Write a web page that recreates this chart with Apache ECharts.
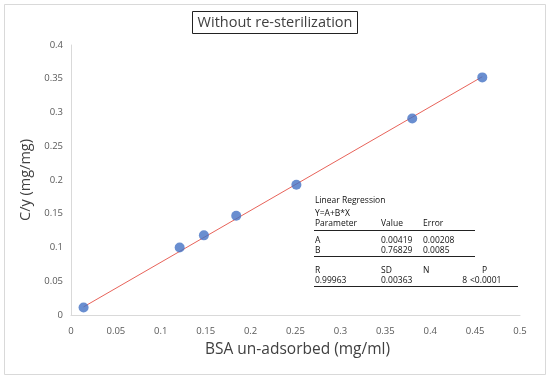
<!DOCTYPE html>
<html>
<head>
<meta charset="utf-8">
<script src="https://cdn.jsdelivr.net/npm/echarts@6/dist/echarts.min.js"></script>
<style>html,body{margin:0;padding:0;background:#fff}#c{width:550px;height:379px}</style>
</head>
<body>
<div id="c"></div>
<script>
// Data
const xValues = [0.014, 0.121, 0.148, 0.184, 0.251, 0.380, 0.458];
const yValues = [0.011, 0.100, 0.118, 0.147, 0.193, 0.291, 0.352];
const fitX = [0.014, 0.458];
const fitY = [0.012, 0.353];
const xTicks = {min: 0, max: 0.5, interval: 0.05};
const yTicks = {min: 0, max: 0.4, interval: 0.05};
const titleText = 'Without re-sterilization';
const xTitle = 'BSA un-adsorbed (mg/ml)';
const yTitle = 'C/y (mg/mg)';
const tableHeader1 = ['Parameter', 'Value', 'Error'];
const tableRowA = ['A', '0.00419', '0.00208'];
const tableRowB = ['B', '0.76829', '0.0085'];
const tableHeader2 = ['R', 'SD', 'N', 'P'];
const tableRow2 = ['0.99963', '0.00363', '8', '<0.0001'];

const FONT = '"Open Sans", "Liberation Sans", sans-serif';
const chart = echarts.init(document.getElementById('c'), null, {renderer: 'canvas'});

function txt(x, y, s, align) {
  return {type: 'text', x: x, y: y, style: {text: s, font: '8.5px ' + FONT, fill: '#111', textAlign: align || 'left', textVerticalAlign: 'middle'}};
}
function hline(x1, x2, y) {
  return {type: 'line', shape: {x1: x1, y1: y, x2: x2, y2: y}, style: {stroke: '#222', lineWidth: 1}};
}
const colX = [315, 381, 423, 482];
const tableEls = [
  txt(315, 201, 'Linear Regression'),
  txt(315, 214, 'Y=A+B*X'),
  txt(colX[0], 224, tableHeader1[0]), txt(colX[1], 224, tableHeader1[1]), txt(colX[2], 224, tableHeader1[2]),
  hline(314, 475, 230.5),
  txt(colX[0], 241, tableRowA[0]), txt(colX[1], 241, tableRowA[1]), txt(colX[2], 241, tableRowA[2]),
  txt(colX[0], 250.5, tableRowB[0]), txt(colX[1], 250.5, tableRowB[1]), txt(colX[2], 250.5, tableRowB[2]),
  hline(314, 475, 256.5),
  txt(colX[0], 271, tableHeader2[0]), txt(colX[1], 271, tableHeader2[1]), txt(colX[2], 271, tableHeader2[2]), txt(colX[3], 271, tableHeader2[3]),
  txt(colX[0], 280.5, tableRow2[0]), txt(colX[1], 280.5, tableRow2[1]), txt(467, 280.5, tableRow2[2], 'right'), txt(470, 280.5, tableRow2[3]),
  hline(314, 518, 286.5),
  {type: 'rect', shape: {x: 4.5, y: 4.5, width: 541, height: 370}, style: {fill: 'none', stroke: '#d9d9d9', lineWidth: 1}, z: -1}
];

chart.setOption({
  animation: false,
  backgroundColor: '#fff',
  title: {
    text: titleText, left: 'center', top: 11,
    borderColor: '#222', borderWidth: 1, padding: [4, 5, 4, 5],
    textStyle: {fontFamily: FONT, fontSize: 14.5, fontWeight: 'normal', color: '#404040'}
  },
  grid: {left: 71, right: 30, top: 45, bottom: 64, containLabel: false},
  xAxis: {
    type: 'value', min: xTicks.min, max: xTicks.max, interval: xTicks.interval,
    name: xTitle, nameLocation: 'middle', nameGap: 27,
    nameTextStyle: {fontFamily: FONT, fontSize: 15.5, color: '#404040', padding: [0, 0, 0, 4]},
    axisLine: {show: true, lineStyle: {color: '#d9d9d9'}},
    axisTick: {show: false}, splitLine: {show: false},
    axisLabel: {fontFamily: FONT, fontSize: 9.5, color: '#595959', margin: 11}
  },
  yAxis: {
    type: 'value', min: yTicks.min, max: yTicks.max, interval: yTicks.interval,
    name: yTitle, nameLocation: 'middle', nameGap: 25,
    nameTextStyle: {fontFamily: FONT, fontSize: 14.5, color: '#404040'},
    axisLine: {show: true, lineStyle: {color: '#d9d9d9'}},
    axisTick: {show: false}, splitLine: {show: false},
    axisLabel: {fontFamily: FONT, fontSize: 9.5, color: '#595959', margin: 8}
  },
  series: [
    {
      type: 'line', data: fitX.map((x, i) => [x, fitY[i]]),
      symbol: 'none', lineStyle: {color: '#e8635a', width: 1}, z: 1
    },
    {
      type: 'scatter', data: xValues.map((x, i) => [x, yValues[i]]),
      symbolSize: 10, itemStyle: {color: '#4472c4'}, z: 2
    }
  ],
  graphic: tableEls
});
</script>
</body>
</html>
